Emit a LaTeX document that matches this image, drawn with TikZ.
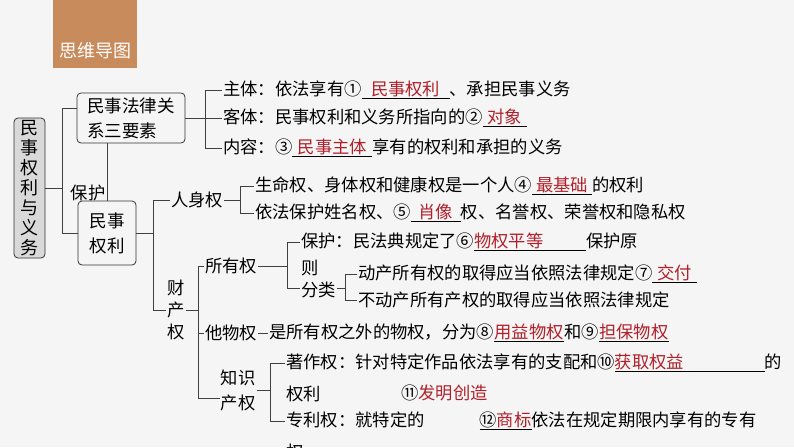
\documentclass[tikz,border=0pt]{standalone}
\usepackage{fontspec}
\setmainfont{Noto Sans CJK SC}
\definecolor{bg}{HTML}{F5F5F5}
\definecolor{hdr}{HTML}{C88B5C}
\definecolor{ans}{HTML}{B0202A}
\newcommand\bk[2]{\underline{\makebox[#1][c]{\textcolor{ans}{#2}}}}
\begin{document}
\begin{tikzpicture}[x=1pt,y=-1pt,
  font=\fontsize{17.3}{20}\selectfont,
  txt/.style={anchor=west,inner sep=1pt},
  ln/.style={draw=black!75,line width=0.8pt},
  box/.style={draw=black!80,line width=0.8pt,rounded corners=4pt,align=left,inner sep=4pt}]
\useasboundingbox (0,0) rectangle (794,447);
\clip (0,0) rectangle (794,447);
\fill[bg] (0,0) rectangle (794,447);
\fill[hdr] (53,0) rectangle (137,68);
\node[text=white,font=\fontsize{18}{20}\selectfont] (hd) at (95,51) {思维导图};
% main
\node[box,fill=gray!30,align=center,minimum width=31,minimum height=140,inner sep=2pt,font=\fontsize{18}{20}\selectfont] (m) at (29.5,188) {民\\事\\权\\利\\与\\义\\务};
\node[box,font=\fontsize{17.5}{25}\selectfont,minimum width=108,minimum height=50] (b1) at (131,118) {民事法律关\\系三要素};
\node[box,font=\fontsize{17.5}{25}\selectfont,minimum width=58,minimum height=64] (b2) at (107,233) {民事\\权利};
\node (bh) at (88,193) {保护};
\draw[ln] (m.east) -- (62,188);
\draw[ln] (b1.west |- 0,108) -- (62,108) -- (62,233) -- (b2.west);
\draw[ln] (b2.north) -- (b2.north |- b1.south);
% three elements
\node[txt] (t1) at (222,90) {主体：依法享有①\bk{88pt}{民事权利}、承担民事义务};
\node[txt] (t2) at (222,118) {客体：民事权利和义务所指向的②\bk{44pt}{对象}};
\node[txt] (t3) at (222,148) {内容：③\bk{80pt}{民事主体}享有的权利和承担的义务};
\draw[ln] (b1.east) -- (205,118);
\draw[ln] (t1.west) -- (205,90) -- (205,148) -- (t3.west);
\draw[ln] (205,118) -- (t2.west);
% rights
\node[txt] (rs) at (170,200) {人身权};
\node[align=center,font=\fontsize{17.3}{22}\selectfont,inner sep=1pt] (cc) at (176,310) {财\\产\\权};
\draw[ln] (b2.east) -- (153,233);
\draw[ln] (rs.west) -- (153,200) -- (153,310) -- (cc.west);
\node[txt] (r1) at (254,186) {生命权、身体权和健康权是一个人④\bk{60pt}{最基础}的权利};
\node[txt] (r2) at (254,213) {依法保护姓名权、⑤\bk{50pt}{肖像}权、名誉权、荣誉权和隐私权};
\draw[ln] (rs.east) -- (240,200);
\draw[ln] (r1.west) -- (240,186) -- (240,213) -- (r2.west);
% property
\node[txt] (sy) at (204,266) {所有权};
\node[txt] (tw) at (204,333) {他物权};
\node[align=left,inner sep=1pt,font=\fontsize{17.3}{25}\selectfont] (zs) at (238,390) {知识\\产权};
\draw[ln] (cc.east) -- (198,310);
\draw[ln] (sy.west) -- (198,266) -- (198,398) -- (zs.west |- 0,398);
\draw[ln] (198,333) -- (tw.west);
\node[txt] (p1) at (300,242) {保护：民法典规定了⑥\bk{112pt}{物权平等\hfill}保护原};
\node[txt,align=left,font=\fontsize{17.3}{22}\selectfont] (fl) at (300,279) {则\\分类};
\draw[ln] (sy.east) -- (287,266);
\draw[ln] (p1.west) -- (287,242) -- (287,288) -- (300,288);
\node[txt] (f1) at (357,274) {动产所有权的取得应当依照法律规定⑦\bk{45pt}{交付}};
\node[txt] (f2) at (357,300) {不动产所有产权的取得应当依照法律规定};
\draw[ln] (fl.east |- 0,288) -- (345,288);
\draw[ln] (f1.west) -- (345,274) -- (345,300) -- (f2.west);
\node[txt] (o1) at (268,333) {是所有权之外的物权，分为⑧\bk{70pt}{用益物权}和⑨\bk{70pt}{担保物权}};
\draw[ln] (tw.east) -- (o1.west);
\node[txt] (z1) at (285,363) {著作权：针对特定作品依法享有的支配和⑩\bk{150pt}{获取权益\hfill}的};
\node[txt] (z2) at (285,394) {权利};
\node[txt] (z2b) at (400,393) {⑪\textcolor{ans}{发明创造}};
\node[txt] (z3) at (285,421) {专利权：就特定的\hspace{55pt}\underline{⑫\textcolor{ans}{商标}}依法在规定期限内享有的专有};
\node[txt] (z4) at (285,452) {权};
\draw[ln] (zs.east) -- (270,390);
\draw[ln] (z1.west) -- (270,363) -- (270,421) -- (z3.west);
\end{tikzpicture}
\end{document}
